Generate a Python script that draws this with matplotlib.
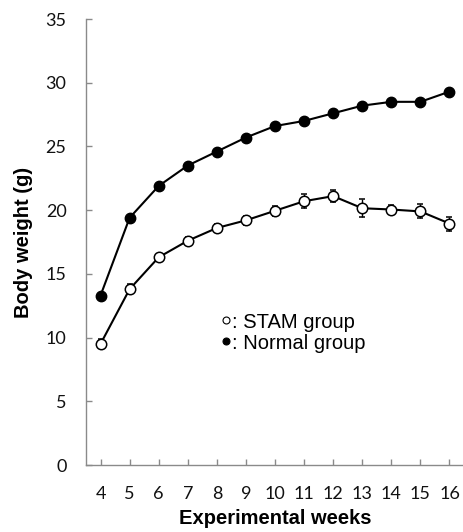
import matplotlib
matplotlib.use("Agg")
import matplotlib.pyplot as plt
from matplotlib.lines import Line2D

# body weight over the experimental period (mean +/- SEM)
weeks = [4, 5, 6, 7, 8, 9, 10, 11, 12, 13, 14, 15, 16]
stam_mean = [9.5, 13.8, 16.3, 17.6, 18.6, 19.2, 19.95, 20.7, 21.1, 20.15, 20.05, 19.9, 18.95]
stam_sem = [0.35, 0.4, 0.25, 0.3, 0.3, 0.35, 0.4, 0.55, 0.45, 0.7, 0.35, 0.55, 0.55]
normal_mean = [13.3, 19.4, 21.9, 23.5, 24.6, 25.7, 26.6, 27.0, 27.6, 28.2, 28.5, 28.5, 29.3]
normal_sem = [0.2, 0.2, 0.2, 0.2, 0.2, 0.2, 0.2, 0.2, 0.2, 0.2, 0.2, 0.2, 0.2]
y_ticks = [0, 5, 10, 15, 20, 25, 30, 35]

spine_grey = "#8a8a8a"

fig = plt.figure(figsize=(4.64, 5.32), dpi=100)
ax = fig.add_axes([86 / 464, 67 / 532, 378 / 464, 446 / 532])

ax.errorbar(weeks, normal_mean, yerr=normal_sem, color="black", lw=1.5,
            marker="o", ms=7.5, mfc="black", mec="black", mew=1.0,
            capsize=2.5, elinewidth=1.0, capthick=1.0, zorder=3)
ax.errorbar(weeks, stam_mean, yerr=stam_sem, color="black", lw=1.5,
            marker="o", ms=7.5, mfc="white", mec="black", mew=1.1,
            capsize=2.5, elinewidth=1.0, capthick=1.0, zorder=3)

ax.set_xlim(3.5, 16.5)
ax.set_ylim(0, 35)
ax.set_xticks(weeks)
ax.set_yticks(y_ticks)

for s in ["top", "right"]:
    ax.spines[s].set_visible(False)
for s in ["left", "bottom"]:
    ax.spines[s].set_color(spine_grey)
    ax.spines[s].set_linewidth(1.0)

ax.tick_params(axis="both", direction="in", length=4, width=1.0, color=spine_grey,
               labelsize=13, labelcolor="#111111")
ax.tick_params(axis="x", pad=15)
ax.tick_params(axis="y", pad=14)
for lab in ax.get_xticklabels() + ax.get_yticklabels():
    lab.set_family("Lato")

ax.set_xlabel("Experimental weeks", fontsize=14.5, fontweight="bold",
              family="Liberation Sans", labelpad=5)
ax.set_ylabel("Body weight (g)", fontsize=14.5, fontweight="bold",
              family="Liberation Sans", labelpad=9)

handles = [
    Line2D([], [], ls="none", marker="o", ms=5, mfc="white", mec="black", mew=0.8),
    Line2D([], [], ls="none", marker="o", ms=5, mfc="black", mec="black", mew=0.8),
]
ax.legend(handles, [": STAM group", ": Normal group"], loc="center left",
          bbox_to_anchor=(0.335, 0.297), frameon=False, handlelength=0.5,
          handletextpad=0.05, labelspacing=0.1, borderaxespad=0,
          prop={"family": "Liberation Sans", "size": 14.5})

fig.savefig("out.png", dpi=100)
